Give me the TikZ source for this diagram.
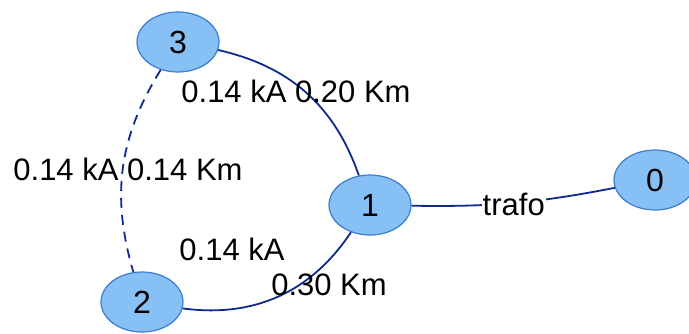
\documentclass[tikz,border=0pt]{standalone}
\usepackage{fontspec}
\setmainfont{Liberation Sans}
\usetikzlibrary{shapes.geometric}
\definecolor{nodefill}{HTML}{87C0F5}
\definecolor{nodeline}{HTML}{3B7DD0}
\definecolor{edgecol}{HTML}{0D2A8C}
\tikzset{
  bus/.style={ellipse, draw=nodeline, line width=1.2pt, fill=nodefill,
    minimum width=82pt, minimum height=60pt, inner sep=0pt,
    font=\fontsize{32}{32}\selectfont},
  edge/.style={draw=edgecol, line width=1.8pt},
  lbl/.style={font=\fontsize{31}{31}\selectfont, inner sep=0pt, anchor=base}
}
\begin{document}
\begin{tikzpicture}[x=1pt,y=1pt]
\useasboundingbox (0,0) rectangle (689,333);
\node[bus] (n3) at (178,291) {3};
\node[bus] (n1) at (370,128) {1};
\node[bus] (n2) at (142,31) {2};
\node[bus] (n0) at (655,153) {0};
\draw[edge] (n3) to[bend left=29] (n1);
\draw[edge, dash pattern=on 10pt off 7pt] (n3) to[bend right=24] (n2);
\draw[edge] (n1) to[bend left=32] (n2);
\draw[edge] (n1) to[bend right=6] node[lbl, anchor=center, fill=white, inner sep=1pt, yshift=-1pt] (tr) {trafo} (n0);
\node[lbl] (l31) at (296,231) {0.14 kA 0.20 Km};
\node[lbl] (l32) at (128,153) {0.14 kA 0.14 Km};
\node[lbl] (l12a) at (232,73) {0.14 kA};
\node[lbl] (l12b) at (329,38) {0.30 Km};
\end{tikzpicture}
\end{document}
